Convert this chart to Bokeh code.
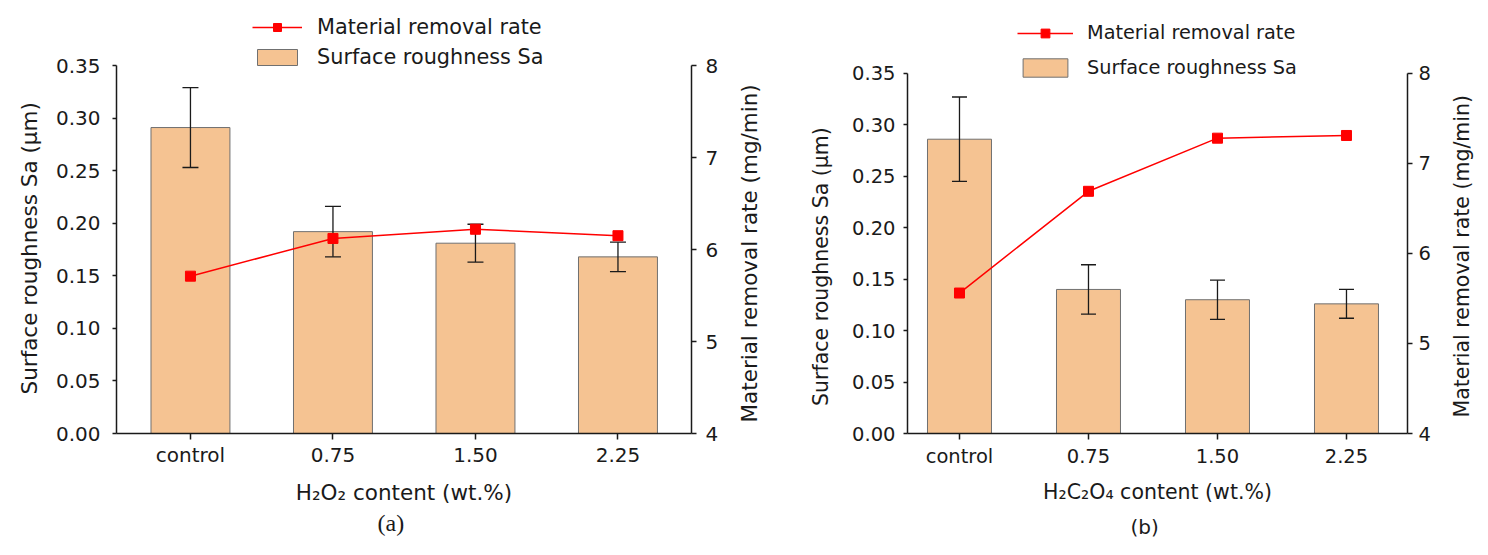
from bokeh.embed import file_html
from bokeh.layouts import row
from bokeh.models import (ColumnDataSource, FixedTicker, Legend, LegendItem,
                          LinearAxis, PrintfTickFormatter, Range1d, Title)
from bokeh.plotting import figure
from bokeh.resources import INLINE

# Data
categories = ["control", "0.75", "1.50", "2.25"]
sa_ticks = [0.00, 0.05, 0.10, 0.15, 0.20, 0.25, 0.30, 0.35]
mrr_ticks = [4, 5, 6, 7, 8]

# (a) H2O2
sa_a = [0.291, 0.192, 0.181, 0.168]
sa_err_a = [0.038, 0.024, 0.018, 0.014]
mrr_a = [5.71, 6.12, 6.22, 6.15]

# (b) H2C2O4
sa_b = [0.286, 0.140, 0.130, 0.126]
sa_err_b = [0.041, 0.024, 0.019, 0.014]
mrr_b = [5.56, 6.69, 7.28, 7.31]

SA_LIM = (0.0, 0.35)
MRR_LIM = (4.0, 8.0)
SA_TITLE = "Surface roughness Sa (μm)"
MRR_TITLE = "Material removal rate (mg/min)"

FONT = "DejaVu Sans"
BAR_FILL = "#F5C392"
BAR_LINE = "#707070"
INK = "#1A1A1A"
HEIGHT = 547
FRAME_TOP = 8  # frame runs up to here so the legend (drawn in the frame) fits
NBSP = "\u00a0"


def style_axis(ax, tick_size, title_size, tick_out, label_standoff, title_standoff):
    ax.axis_line_color = INK
    ax.axis_line_width = 1.5
    ax.major_tick_line_color = INK
    ax.major_tick_line_width = 1.5
    ax.major_tick_out = tick_out
    ax.major_tick_in = 0
    ax.minor_tick_line_color = None
    ax.major_label_text_font = FONT
    ax.major_label_text_font_size = tick_size
    ax.major_label_text_color = INK
    ax.major_label_standoff = label_standoff
    ax.axis_label_text_font = FONT
    ax.axis_label_text_font_size = title_size
    ax.axis_label_text_font_style = "normal"
    ax.axis_label_text_color = INK
    ax.axis_label_standoff = title_standoff


def make_panel(sa, sa_err, mrr, x_label, tag, cfg):
    # the drawn axes stop at the top tick; the frame goes higher to hold the legend
    full_h = HEIGHT - FRAME_TOP - cfg["bb"]
    axis_h = HEIGHT - cfg["bt"] - cfg["bb"]
    stretch = full_h / axis_h
    sa_end = SA_LIM[0] + (SA_LIM[1] - SA_LIM[0]) * stretch
    mrr_end = MRR_LIM[0] + (MRR_LIM[1] - MRR_LIM[0]) * stretch

    p = figure(width=cfg["width"], height=HEIGHT,
               x_range=Range1d(cfg["x_start"], cfg["x_end"]),
               y_range=Range1d(SA_LIM[0], sa_end),
               output_backend="svg", toolbar_location=None,
               min_border_left=cfg["bl"], min_border_right=cfg["br"],
               min_border_top=FRAME_TOP, min_border_bottom=cfg["bb"])
    p.extra_y_ranges = {"mrr": Range1d(MRR_LIM[0], mrr_end)}
    p.grid.visible = False
    p.outline_line_color = None

    xs = list(range(len(categories)))
    src = ColumnDataSource(dict(
        x=xs, sa=sa, mrr=mrr,
        upper=[s + e for s, e in zip(sa, sa_err)],
        lower=[s - e for s, e in zip(sa, sa_err)],
    ))

    bars = p.vbar(x="x", top="sa", bottom=0, width=cfg["bar_w"], source=src,
                  fill_color=BAR_FILL, line_color=BAR_LINE, line_width=1)
    p.segment(x0="x", y0="lower", x1="x", y1="upper", source=src,
              line_color=INK, line_width=1.3)
    p.scatter(x="x", y="upper", marker="dash", size=cfg["cap"], source=src,
              line_color=INK, line_width=1.3)
    p.scatter(x="x", y="lower", marker="dash", size=cfg["cap"], source=src,
              line_color=INK, line_width=1.3)
    line = p.line(x="x", y="mrr", y_range_name="mrr", source=src,
                  line_color="#FF0000", line_width=1.5)
    squares = p.scatter(x="x", y="mrr", y_range_name="mrr", marker="square",
                        size=10, source=src, fill_color="#FF0000",
                        line_color="#FF0000")

    # axes
    xa = p.xaxis[0]
    xa.ticker = FixedTicker(ticks=xs)
    xa.major_label_overrides = {i: c for i, c in enumerate(categories)}
    xa.axis_label = x_label
    style_axis(xa, cfg["tick_size"], cfg["title_size"], 6, cfg["x_ls"], cfg["x_ts"])

    # axis title is centred on the whole frame; trailing no-break spaces
    # move the visible words down to the middle of the drawn axis
    ya = p.yaxis[0]
    ya.ticker = FixedTicker(ticks=sa_ticks)
    ya.formatter = PrintfTickFormatter(format="%.2f")
    ya.bounds = SA_LIM
    ya.axis_label = SA_TITLE + NBSP * cfg["l_pad"]
    style_axis(ya, cfg["tick_size"], cfg["title_size"], 4, cfg["l_ls"], cfg["l_ts"])

    # right axis title is drawn by the strip next to the panel (reads upward)
    ra = LinearAxis(y_range_name="mrr", ticker=FixedTicker(ticks=mrr_ticks),
                    bounds=MRR_LIM)
    style_axis(ra, cfg["tick_size"], cfg["title_size"], 5, cfg["r_ls"], 0)
    p.add_layout(ra, "right")

    # legend, one block per entry so each sits where it does in the figure
    entries = [
        ("Material removal rate", [line, squares], cfg["leg_y1"], cfg["gh1"]),
        ("Surface roughness Sa", [bars], cfg["leg_y2"], cfg["gh2"]),
    ]
    for label, rends, ly, gh in entries:
        lg = Legend(items=[LegendItem(label=label, renderers=rends)],
                    location=(cfg["leg_x"], ly),
                    glyph_width=cfg["gw"], glyph_height=gh,
                    label_height=gh, label_standoff=cfg["leg_so"],
                    label_text_font=FONT,
                    label_text_font_size=cfg["leg_size"],
                    label_text_color=INK,
                    padding=0, margin=0, spacing=0,
                    border_line_color=None, background_fill_alpha=0)
        p.add_layout(lg, "center")

    p.add_layout(Title(text=tag, align="left", offset=cfg["tag_off"],
                       standoff=cfg["tag_so"], text_font=cfg["tag_font"],
                       text_font_size=cfg["tag_size"],
                       text_font_style="normal", text_color=INK), "below")
    return p


def title_strip(cfg):
    # narrow empty figure whose left-side title is the right axis title
    s = figure(width=cfg["s_width"], height=HEIGHT,
               x_axis_type=None, y_axis_type=None,
               output_backend="svg", toolbar_location=None,
               min_border_left=cfg["s_left"],
               min_border_right=cfg["s_width"] - cfg["s_left"] - 3,
               min_border_top=FRAME_TOP, min_border_bottom=cfg["bb"])
    s.outline_line_color = None
    s.add_layout(Title(text=MRR_TITLE, align="left", offset=cfg["s_off"],
                       vertical_align="middle", standoff=0,
                       text_font=FONT, text_font_size=cfg["title_size"],
                       text_font_style="normal", text_color=INK), "left")
    return s


cfg_a = dict(width=735, bl=116, br=44, bt=65, bb=114,
             x_start=-0.519, x_end=3.516, bar_w=0.554, cap=16,
             tick_size="20px", title_size="21.5px",
             x_ls=3, x_ts=10, l_ls=12, l_ts=11, r_ls=9,
             l_pad=8,
             s_width=50, s_left=25, s_off=11,
             leg_x=136, leg_y1=394, leg_y2=364, gw=50, gh1=20, gh2=20,
             leg_so=15, leg_size="20.8px",
             tag_off=261, tag_so=0, tag_font="Liberation Serif", tag_size="24px")

cfg_b = dict(width=655, bl=122, br=33, bt=73, bb=113,
             x_start=-0.403, x_end=3.473, bar_w=0.496, cap=15,
             tick_size="19.5px", title_size="20.5px",
             x_ls=5, x_ts=9, l_ls=8, l_ts=16, r_ls=6,
             l_pad=14,
             s_width=48, s_left=34, s_off=16,
             leg_x=110, leg_y1=389, leg_y2=354, gw=56, gh1=22, gh2=23,
             leg_so=14, leg_size="19.3px",
             tag_off=223, tag_so=13, tag_font=FONT, tag_size="20px")

pa = make_panel(sa_a, sa_err_a, mrr_a, "H₂O₂ content (wt.%)", "(a)", cfg_a)
pb = make_panel(sa_b, sa_err_b, mrr_b, "H₂C₂O₄ content (wt.%)", "(b)", cfg_b)

layout = row(pa, title_strip(cfg_a), pb, title_strip(cfg_b))
open("out.html", "w").write(file_html(layout, INLINE))
